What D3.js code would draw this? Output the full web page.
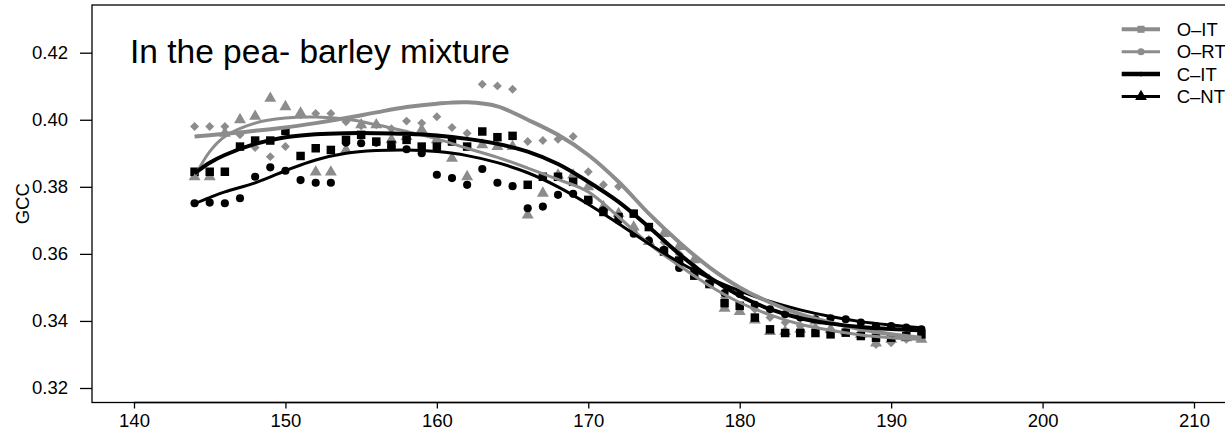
<!DOCTYPE html>
<html lang="en">
<head>
<meta charset="UTF-8">
<title>GCC in the pea- barley mixture</title>
<script src="https://d3js.org/d3.v7.min.js"></script>
<style>
  body { margin: 0; background: #fff; }
  text { font-family: "Liberation Sans", Arial, sans-serif; fill: #000; }
</style>
</head>
<body>
<div id="chart-container"></div>
<script>
// observation days
const days = [144,145,146,147,148,149,150,151,152,153,154,155,156,157,158,159,160,161,162,163,164,165,166,167,168,
              169,170,171,172,173,174,175,176,177,178,179,180,181,182,183,184,185,186,187,188,189,190,191,192];

// point series (GCC per day)
const grayDiamond = [.398,.398,.398,.3955,.3917,.389,.392,.4015,.4019,.4019,.3994,.3982,.3985,.3973,.3996,.399,.4009,.3977,.396,.4106,.4101,.4091,.3935,.3938,.3942,
                     .395,.3845,.3806,.3801,.372,.368,.3635,.360,.356,.352,.347,.3445,.3435,.341,.3395,.3385,.338,.3375,.337,.3365,.333,.3335,.3345,.335];
const grayTriangle = [.383,.383,.396,.400,.401,.4064,.4039,.402,.3844,.3844,.391,.3985,.3985,.394,.395,.397,.394,.3885,.383,.3925,.392,.392,.3716,.3781,.3835,
                      .3835,.380,.374,.372,.368,.3637,.3661,.3622,.3582,.352,.3438,.3428,.3403,.3368,.3368,.3375,.340,.3374,.337,.336,.3334,.3345,.335,.3345];
const blackSquare = [.3845,.3845,.3845,.392,.3938,.3938,.3967,.3892,.3915,.391,.394,.3955,.3935,.3925,.394,.392,.392,.3935,.392,.3965,.3948,.3952,.3806,.383,.383,
                     .3815,.3761,.3725,.371,.372,.368,.3607,.358,.3535,.351,.3453,.3445,.341,.3375,.3364,.3364,.3364,.336,.3365,.3355,.335,.335,.3355,.336];
const blackCircle = [.3751,.3753,.3751,.3766,.383,.3858,.3848,.382,.3812,.3812,.3932,.393,.3932,.392,.3912,.390,.3836,.3826,.3806,.3853,.3812,.3802,.3736,.3741,.3776,
                     .3779,.376,.373,.370,.366,.364,.3612,.3558,.355,.351,.3483,.348,.3448,.3435,.342,.341,.3405,.3408,.3405,.3395,.3385,.3385,.338,.3375];

// fitted curves
const fitDays = [144,145,146,148,150,152,154,156,158,160,162,164,166,168,170,172,174,176,178,180,182,184,186,188,190,192];
const fitGrayThick = [.3950,.3954,.3958,.3967,.3977,.3990,.4005,.4022,.4038,.4048,.4052,.4040,.4000,.3955,.3895,.3815,.3720,.3635,.3560,.3500,.3455,.3420,.3395,.3375,.3360,.3350];
const fitGrayThin  = [.3830,.3905,.3950,.3990,.4005,.4008,.4002,.3985,.3965,.3943,.3915,.3888,.3856,.3822,.3785,.3710,.3630,.3565,.3505,.3455,.3418,.3390,.3372,.3358,.3350,.3345];
const fitBlackThick = [.3840,.3872,.3895,.3928,.3948,.3957,.3960,.3960,.3958,.3953,.3943,.3928,.3905,.3868,.3815,.3755,.3680,.3600,.3530,.3475,.3435,.3408,.3392,.3382,.3376,.3372];
const fitBlackThin  = [.3750,.3768,.3785,.3812,.3848,.3880,.3900,.3908,.3910,.3905,.3893,.3872,.3842,.3800,.3748,.3690,.3630,.3575,.3528,.3490,.3458,.3433,.3413,.3398,.3388,.3380];

const xTicks = [140,150,160,170,180,190,200,210];
const yTicks = [0.32,0.34,0.36,0.38,0.40,0.42];
const legendLabels = ["O\u2013IT","O\u2013RT","C\u2013IT","C\u2013NT"];

const W = 1225, H = 431;
const box = {left: 92, top: 5, bottom: 402.5, right: 1300};
const gray = "#8c8c8c";

const svg = d3.select("#chart-container").append("svg")
    .attr("width", W).attr("height", H);

const x = d3.scaleLinear().domain([140, 210]).range([134, 1194]);
const y = d3.scaleLinear().domain([0.32, 0.42]).range([388, 52.7]);

// plot box
svg.append("rect")
    .attr("x", box.left).attr("y", box.top)
    .attr("width", box.right - box.left).attr("height", box.bottom - box.top)
    .attr("fill", "none").attr("stroke", "#000").attr("stroke-width", 1.3);

// axes
const xAxis = svg.append("g")
    .attr("transform", `translate(0,${box.bottom})`)
    .call(d3.axisBottom(x).tickValues(xTicks).tickFormat(d3.format("d")).tickSize(6).tickPadding(5));
const yAxis = svg.append("g")
    .attr("transform", `translate(${box.left},0)`)
    .call(d3.axisLeft(y).tickValues(yTicks).tickFormat(d3.format(".2f")).tickSize(12).tickPadding(12));
[xAxis, yAxis].forEach(g => {
  g.select(".domain").remove();
  g.selectAll("line").attr("stroke", "#000").attr("stroke-width", 1.3);
  g.selectAll("text").style("font-size", "18.5px").attr("fill", "#000");
});
svg.append("line")
    .attr("x1", x(140)).attr("x2", x(210))
    .attr("y1", box.bottom).attr("y2", box.bottom)
    .attr("stroke", "#000").attr("stroke-width", 1.3);

// y label
svg.append("text")
    .attr("transform", `translate(29,${(box.top + box.bottom) / 2}) rotate(-90)`)
    .attr("text-anchor", "middle")
    .style("font-size", "18.5px")
    .text("GCC");

// title
svg.append("text")
    .attr("x", 130).attr("y", 63)
    .style("font-size", "33.5px")
    .text("In the pea- barley mixture");

const sym = {
  square: d3.symbol().type(d3.symbolSquare).size(72),
  circle: d3.symbol().type(d3.symbolCircle).size(52),
  triangle: d3.symbol().type(d3.symbolTriangle).size(62),
  diamond: d3.symbol().type(d3.symbolSquare).size(40)
};

function drawPoints(vals, shape, color, rot) {
  svg.append("g").selectAll("path")
    .data(vals.map((v, i) => [days[i], v]))
    .join("path")
      .attr("d", sym[shape])
      .attr("fill", color)
      .attr("transform", d => `translate(${x(d[0])},${y(d[1])})` + (rot ? " rotate(45)" : ""));
}

drawPoints(grayDiamond, "diamond", gray, true);
drawPoints(grayTriangle, "triangle", gray, false);
drawPoints(blackSquare, "square", "#000", false);
drawPoints(blackCircle, "circle", "#000", false);

const line = d3.line()
    .x((d, i) => x(fitDays[i]))
    .y(d => y(d))
    .curve(d3.curveCatmullRom);

[[fitGrayThin, gray, 3], [fitBlackThin, "#000", 3], [fitGrayThick, gray, 4], [fitBlackThick, "#000", 4]]
  .forEach(([vals, color, lw]) => {
    svg.append("path")
      .attr("d", line(vals))
      .attr("fill", "none")
      .attr("stroke", color)
      .attr("stroke-width", lw);
  });

// legend
const legendStyle = [
  {color: gray, lw: 4, shape: "square", size: 50},
  {color: gray, lw: 3, shape: "circle", size: 40},
  {color: "#000", lw: 4.5, shape: "diamond", size: 14},
  {color: "#000", lw: 3, shape: "triangle", size: 60}
];
const legend = svg.append("g");
legendLabels.forEach((lab, i) => {
  const ly = 29.3 + i * 22.4;
  const st = legendStyle[i];
  legend.append("line")
    .attr("x1", 1121.7).attr("x2", 1160)
    .attr("y1", ly).attr("y2", ly)
    .attr("stroke", st.color).attr("stroke-width", st.lw);
  legend.append("path")
    .attr("d", d3.symbol().type(st.shape === "circle" ? d3.symbolCircle :
                               st.shape === "triangle" ? d3.symbolTriangle : d3.symbolSquare).size(st.size))
    .attr("fill", st.color)
    .attr("transform", `translate(1141,${ly})` + (st.shape === "diamond" ? " rotate(45)" : ""));
  legend.append("text")
    .attr("x", 1176.7).attr("y", ly)
    .attr("dy", "0.35em")
    .style("font-size", "18.5px")
    .text(lab);
});
</script>
</body>
</html>
